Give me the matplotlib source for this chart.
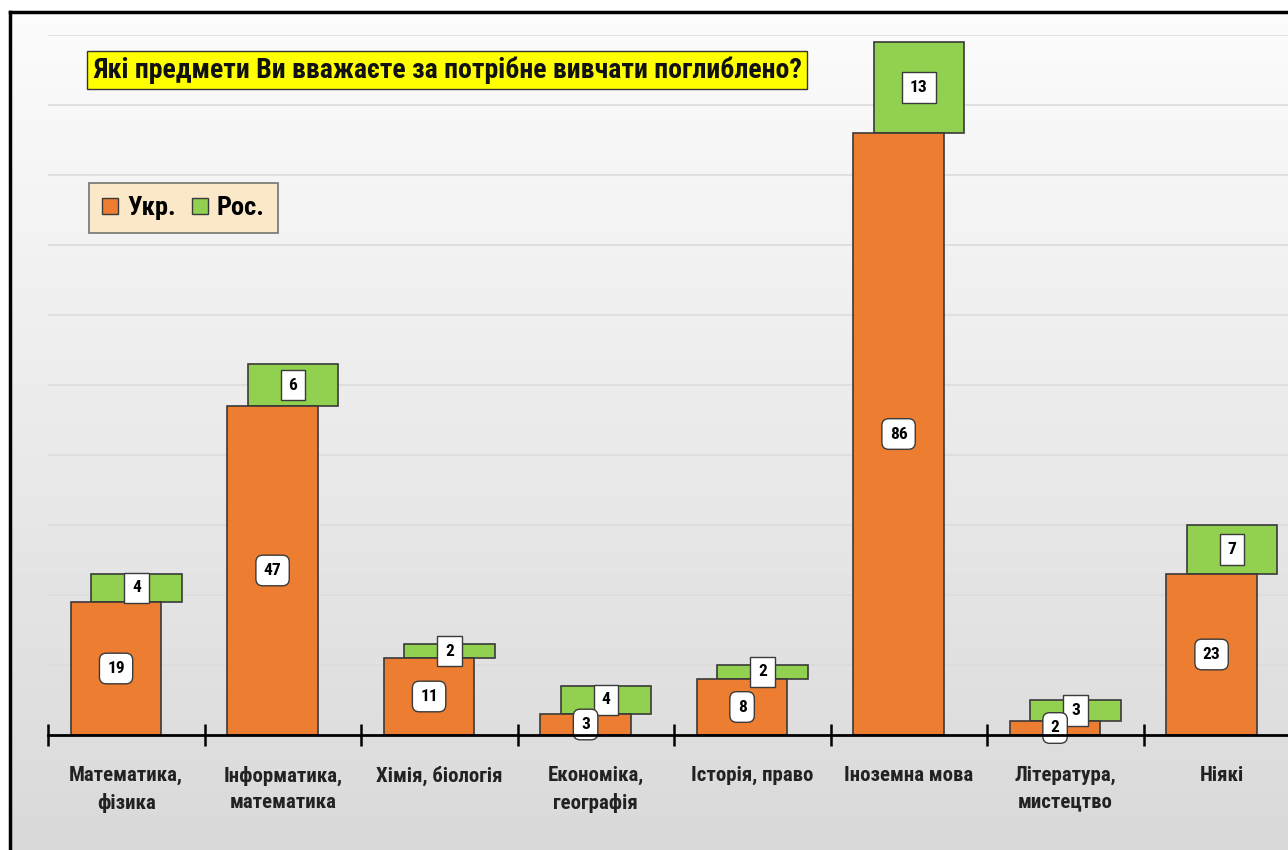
import os
import numpy as np
import matplotlib
matplotlib.use("Agg")
from matplotlib import pyplot as plt
from matplotlib import font_manager
from matplotlib.patches import Patch

# дані
categories = ['Математика,\nфізика', 'Інформатика,\nматематика', 'Хімія, біологія',
              'Економіка,\nгеографія', 'Історія, право', 'Іноземна мова',
              'Література,\nмистецтво', 'Ніякі']
ukr = [19, 47, 11, 3, 8, 86, 2, 23]
ros = [4, 6, 2, 4, 2, 13, 3, 7]
series_names = ['Укр.', 'Рос.']
title = 'Які предмети Ви вважаєте за потрібне вивчати поглиблено?'

c_ukr = '#ED7D31'
c_ros = '#92D050'
edge = '#3a3a3a'


# вузький жирний шрифт, якщо є
def find_font():
    wanted = ['robotocondensed-bold.', 'liberationsansnarrow-bold.', 'dejavusanscondensed-bold.',
              'notosans-condensedbold.', 'opensans-condensedbold.', 'opensans_condensed-bold.']
    names = {os.path.basename(f.fname).lower(): f.fname for f in font_manager.fontManager.ttflist}
    for w in wanted:
        for n, path in names.items():
            if n.startswith(w):
                return path
    return None


fpath = find_font()


def fp(size):
    if fpath:
        return font_manager.FontProperties(fname=fpath, size=size)
    return font_manager.FontProperties(family='DejaVu Sans', weight='bold', size=size)


W, H = 1288, 850
fig = plt.figure(figsize=(W / 100, H / 100), dpi=100)

# фон з градієнтом і рамкою
bg = fig.add_axes([10 / W, 0, 1 - 10 / W, (H - 12) / H])
grad = np.linspace(0.985, 0.85, 256).reshape(-1, 1)
bg.imshow(grad, aspect='auto', cmap='gray', vmin=0, vmax=1, extent=[0, 1, 0, 1])
bg.set_xlim(0, 1)
bg.set_ylim(0, 1)
for s in ['right', 'bottom']:
    bg.spines[s].set_visible(False)
for s in ['left', 'top']:
    bg.spines[s].set_linewidth(2.5)
    bg.spines[s].set_color('black')
bg.set_xticks([])
bg.set_yticks([])

# основний графік
ax = fig.add_axes([48 / W, (H - 735) / H, 8 * 156.5 / W, 700 / H])
ax.patch.set_alpha(0)
x = np.arange(len(categories))
bw = 0.58
off = 0.065
xu = x - off
xr = x + off

ax.bar(xu, ukr, width=bw, color=c_ukr, edgecolor=edge, linewidth=1.2, zorder=3)
ax.bar(xr, ros, width=bw, bottom=ukr, color=c_ros, edgecolor=edge, linewidth=1.2, zorder=2)

for i in range(len(categories)):
    ax.text(xu[i], ukr[i] / 2, str(ukr[i]), ha='center', va='center', fontproperties=fp(12.5),
            zorder=5,
            bbox=dict(boxstyle='round,pad=0.45,rounding_size=0.4', fc='white', ec=edge, lw=1))
    ax.text(xr[i], ukr[i] + ros[i] / 2, str(ros[i]), ha='center', va='center',
            fontproperties=fp(12.5), zorder=4,
            bbox=dict(boxstyle='square,pad=0.45', fc='white', ec=edge, lw=1))

ax.set_xlim(-0.5, 7.5)
ax.set_ylim(0, 100)
ax.set_yticks(np.arange(10, 101, 10))
ax.yaxis.grid(True, color='#dcdcdc', linewidth=1.2, zorder=0)
ax.tick_params(axis='y', length=0, labelleft=False)
for s in ['left', 'right', 'top']:
    ax.spines[s].set_visible(False)
ax.spines['bottom'].set_linewidth(2)
ax.spines['bottom'].set_zorder(6)

ax.set_xticks(x)
ax.set_xticklabels(categories, color='#222222', linespacing=1.5)
for lbl in ax.get_xticklabels():
    lbl.set_fontproperties(fp(15))
ax.tick_params(axis='x', which='major', length=0, pad=22)
ax.set_xticks(np.arange(-0.5, 8, 1), minor=True)
ax.tick_params(axis='x', which='minor', length=16, width=1.8, direction='inout', color='black')

# заголовок
t = fig.text(93 / W, 1 - 70 / H, title, ha='left', va='center', fontproperties=fp(20),
             color='#111111',
             bbox=dict(boxstyle='square,pad=0.2', fc='#FFFF00', ec='#333333', lw=1))
fig.canvas.draw()
tw = t.get_window_extent().width
t.set_fontproperties(fp(20 * 708 / tw))

# легенда
handles = [Patch(fc=c_ukr, ec=edge, lw=1), Patch(fc=c_ros, ec=edge, lw=1)]
leg = fig.legend(handles, series_names, loc='upper left', bbox_to_anchor=(89 / W, 1 - 183 / H),
                 borderaxespad=0, ncol=2, frameon=True, fancybox=False, handlelength=0.6,
                 handleheight=0.6, handletextpad=0.35, columnspacing=0.6, borderpad=0.5,
                 prop=fp(19))
leg.get_frame().set_facecolor('#FDE6BE')
leg.get_frame().set_edgecolor('#555555')
leg.get_frame().set_linewidth(1.2)

fig.savefig('out.png', dpi=100)
